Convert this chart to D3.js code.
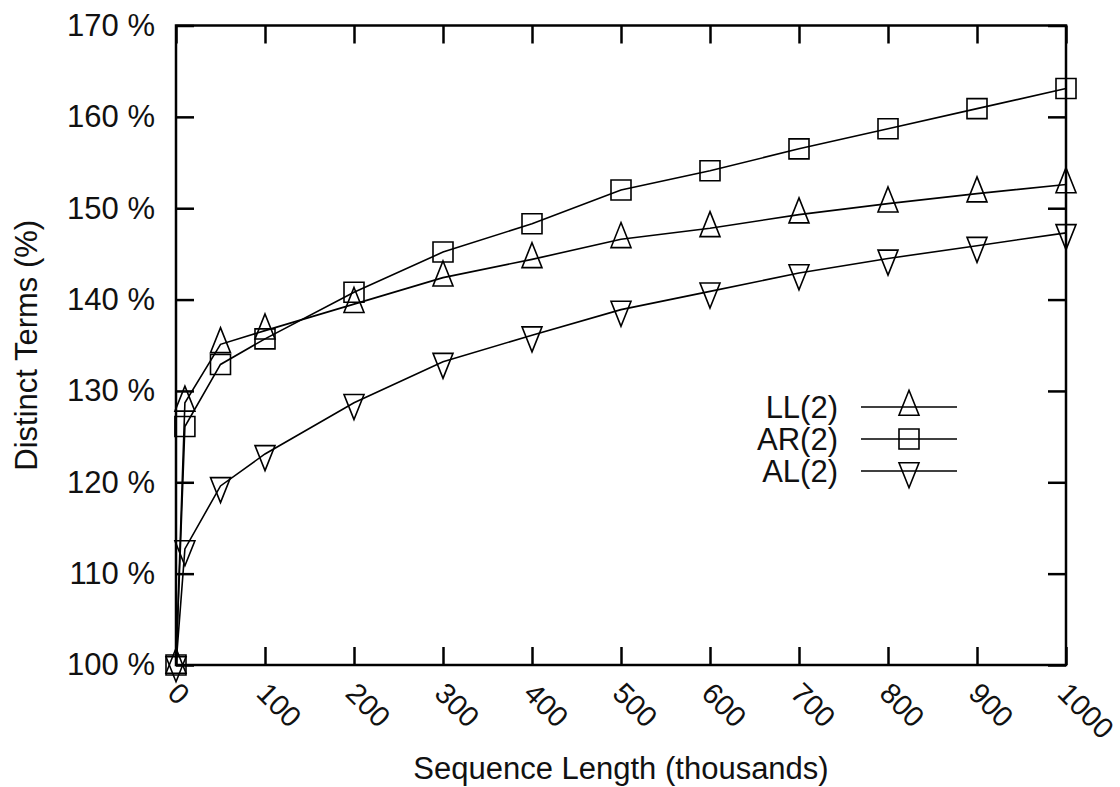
<!DOCTYPE html>
<html>
<head>
<meta charset="utf-8">
<script src="https://cdn.jsdelivr.net/npm/d3@7/dist/d3.min.js"></script>
<style>
  html, body { margin: 0; padding: 0; background: #fff; }
  svg { display: block; font-family: "Liberation Sans", Arial, sans-serif; }
</style>
</head>
<body>
<svg id="chart" width="1120" height="787"></svg>
<script>
// Sequence length in thousands
const seqLength = [0, 10, 50, 100, 200, 300, 400, 500, 600, 700, 800, 900, 1000];

// Distinct terms relative to the baseline, in percent
const llValues = [100, 128.7, 135.1, 136.6, 139.5, 142.4, 144.4, 146.6, 147.8, 149.3, 150.5, 151.6, 152.6];
const arValues = [100, 126.1, 132.9, 135.7, 140.8, 145.2, 148.3, 152.0, 154.1, 156.5, 158.7, 160.9, 163.1];
const alValues = [100, 112.7, 119.6, 123.1, 128.7, 133.2, 136.1, 138.9, 140.9, 142.9, 144.5, 145.9, 147.3];

const seriesNames = ["LL(2)", "AR(2)", "AL(2)"];
const seriesSymbols = ["triangleUp", "square", "triangleDown"];

const xTicks = [0, 100, 200, 300, 400, 500, 600, 700, 800, 900, 1000];
const yTicks = [100, 110, 120, 130, 140, 150, 160, 170];

const xTitle = "Sequence Length (thousands)";
const yTitle = "Distinct Terms (%)";

const svg = d3.select("#chart");
const plotLeft = 176, plotRight = 1066, plotTop = 25.5, plotBottom = 665;

const x = d3.scaleLinear().domain([0, 1000]).range([plotLeft, plotRight]);
const y = d3.scaleLinear().domain([100, 170]).range([plotBottom, plotTop]);

const tickLen = 18;
const ink = "#000";
const textInk = "#111";

// Ticks on all four sides, pointing into the plot
const gx = svg.append("g").attr("transform", `translate(0,${plotBottom})`)
  .call(d3.axisBottom(x).tickValues(xTicks).tickSize(-tickLen).tickFormat(""));
const gxTop = svg.append("g").attr("transform", `translate(0,${plotTop})`)
  .call(d3.axisTop(x).tickValues(xTicks).tickSize(-tickLen).tickFormat(""));
const gy = svg.append("g").attr("transform", `translate(${plotLeft},0)`)
  .call(d3.axisLeft(y).tickValues(yTicks).tickSize(-tickLen).tickFormat(d => d + " %").tickPadding(21));
const gyRight = svg.append("g").attr("transform", `translate(${plotRight},0)`)
  .call(d3.axisRight(y).tickValues(yTicks).tickSize(-tickLen).tickFormat(""));

[gx, gxTop, gy, gyRight].forEach(g => {
  g.select(".domain").remove();
  g.selectAll(".tick line").attr("stroke", ink).attr("stroke-width", 2.5);
});
gy.selectAll(".tick text")
  .attr("font-size", 31).attr("fill", textInk)
  .attr("font-family", "'Liberation Sans', Arial, sans-serif");

// Rotated x tick labels
svg.append("g").selectAll("text")
  .data(xTicks)
  .join("text")
  .attr("transform", d => `translate(${x(d) - 10},${plotBottom + 30}) rotate(45)`)
  .attr("text-anchor", "start")
  .attr("font-size", 29)
  .attr("fill", textInk)
  .text(d => d);

// Plot frame
svg.append("rect")
  .attr("x", plotLeft).attr("y", plotTop)
  .attr("width", plotRight - plotLeft).attr("height", plotBottom - plotTop)
  .attr("fill", "none").attr("stroke", ink).attr("stroke-width", 2.5);

// Axis titles
svg.append("text")
  .attr("x", (plotLeft + plotRight) / 2).attr("y", 779)
  .attr("text-anchor", "middle").attr("font-size", 31).attr("fill", textInk)
  .text(xTitle);
svg.append("text")
  .attr("transform", `translate(37,${(plotTop + plotBottom) / 2}) rotate(-90)`)
  .attr("text-anchor", "middle").attr("font-size", 31).attr("fill", textInk)
  .text(yTitle);

// Marker shapes, centred on the data point
function markerPath(kind) {
  const s = 10;
  if (kind === "square") return `M${-s},${-s}H${s}V${s}H${-s}Z`;
  if (kind === "triangleUp") return `M0,${-16.7}L${s},${8.3}L${-s},${8.3}Z`;
  return `M0,${16.7}L${s},${-8.3}L${-s},${-8.3}Z`;
}

const seriesValues = [llValues, arValues, alValues];
const line = d3.line().x(d => x(d[0])).y(d => y(d[1]));

seriesValues.forEach((vals, i) => {
  const pts = seqLength.map((s, j) => [s, vals[j]]);
  const g = svg.append("g");
  g.append("path").datum(pts)
    .attr("d", line).attr("fill", "none")
    .attr("stroke", ink).attr("stroke-width", 1.6);
  g.selectAll("path.mk").data(pts).join("path")
    .attr("class", "mk")
    .attr("transform", d => `translate(${x(d[0])},${y(d[1])})`)
    .attr("d", markerPath(seriesSymbols[i]))
    .attr("fill", "none").attr("stroke", ink).attr("stroke-width", 1.6);
});

// Legend
const legendY = [407, 439, 471];
const legend = svg.append("g");
seriesNames.forEach((name, i) => {
  const ly = legendY[i];
  legend.append("text")
    .attr("x", 838).attr("y", ly).attr("dy", "0.35em")
    .attr("text-anchor", "end").attr("font-size", 31).attr("fill", textInk)
    .text(name);
  legend.append("line")
    .attr("x1", 861).attr("x2", 957).attr("y1", ly).attr("y2", ly)
    .attr("stroke", ink).attr("stroke-width", 1.6);
  legend.append("path")
    .attr("transform", `translate(909,${ly})`)
    .attr("d", markerPath(seriesSymbols[i]))
    .attr("fill", "none").attr("stroke", ink).attr("stroke-width", 1.6);
});
</script>
</body>
</html>
